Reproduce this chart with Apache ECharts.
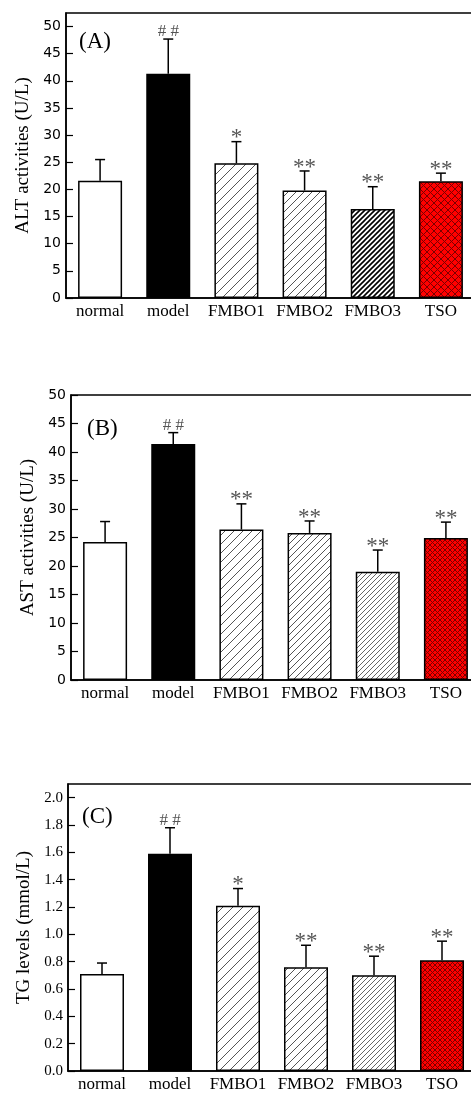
<!DOCTYPE html>
<html lang="en">
<head>
  <meta charset="UTF-8">
  <title>ALT / AST / TG</title>
  <script src="https://cdn.jsdelivr.net/npm/echarts@6/dist/echarts.min.js"></script>
  <style>
    html, body { margin: 0; padding: 0; background: #fff; }
    #app { width: 471px; height: 1095px; }
  </style>
</head>
<body>
  <div id="app"></div>
  <script>
    var groups = ['normal', 'model', 'FMBO1', 'FMBO2', 'FMBO3', 'TSO']

    // (A) ALT activities (U/L)
    var altMean = [21.6, 41.3, 24.8, 19.8, 16.4, 21.5]
    var altSd = [3.9, 6.4, 4.0, 3.6, 4.1, 1.5]
    var altMark = ['', '# #', '*', '**', '**', '**']

    // (B) AST activities (U/L)
    var astMean = [24.2, 41.4, 26.4, 25.8, 19.0, 24.9]
    var astSd = [3.6, 2.0, 4.5, 2.1, 3.8, 2.8]
    var astMark = ['', '# #', '**', '**', '**', '**']

    // (C) TG levels (mmol/L)
    var tgMean = [0.71, 1.59, 1.21, 0.76, 0.70, 0.81]
    var tgSd = [0.08, 0.19, 0.125, 0.16, 0.14, 0.14]
    var tgMark = ['', '# #', '*', '**', '**', '**']

    var serif = 'Liberation Serif'
    var sans = 'DejaVu Sans'

    // diagonal "/" hatch as a canvas pattern
    function hatch(step, color, lw) {
      var c = document.createElement('canvas')
      c.width = step
      c.height = step
      var ctx = c.getContext('2d')
      ctx.fillStyle = '#fff'
      ctx.fillRect(0, 0, step, step)
      ctx.strokeStyle = color
      ctx.lineWidth = lw
      ctx.beginPath()
      ctx.moveTo(-1, step + 1); ctx.lineTo(step + 1, -1)
      ctx.moveTo(-step / 2 - 1, step / 2 + 1); ctx.lineTo(step / 2 + 1, -step / 2 - 1)
      ctx.moveTo(step / 2 - 1, step * 1.5 + 1); ctx.lineTo(step * 1.5 + 1, step / 2 - 1)
      ctx.stroke()
      return { image: c, repeat: 'repeat' }
    }

    // red cross hatch
    function cross(step, color, lw) {
      var c = document.createElement('canvas')
      c.width = step
      c.height = step
      var ctx = c.getContext('2d')
      ctx.fillStyle = '#f00'
      ctx.fillRect(0, 0, step, step)
      ctx.strokeStyle = color
      ctx.lineWidth = lw
      ctx.beginPath()
      ctx.moveTo(0, step); ctx.lineTo(step, 0)
      ctx.moveTo(-step / 2, step / 2); ctx.lineTo(step / 2, -step / 2)
      ctx.moveTo(step / 2, step * 1.5); ctx.lineTo(step * 1.5, step / 2)
      ctx.moveTo(0, 0); ctx.lineTo(step, step)
      ctx.moveTo(-step / 2, step / 2); ctx.lineTo(step / 2, step * 1.5)
      ctx.moveTo(step / 2, -step / 2); ctx.lineTo(step * 1.5, step / 2)
      ctx.stroke()
      return { image: c, repeat: 'repeat' }
    }

    var fillA = ['#fff', '#000', hatch(10, '#555', 1), hatch(8, '#555', 1), hatch(5, '#000', 1.6), cross(7, '#7a0000', 1)]
    var fillB = ['#fff', '#000', hatch(9, '#555', 1), hatch(7, '#555', 1), hatch(5, '#666', 1), cross(5, '#7a0000', 1)]
    var fillC = ['#fff', '#000', hatch(10, '#555', 1), hatch(8, '#555', 1), hatch(5, '#666', 1), cross(5, '#7a0000', 1)]

    var grids = [
      { left: 66, top: 13, width: 409, height: 285 },
      { left: 71, top: 395, width: 409, height: 285 },
      { left: 68, top: 784, width: 408, height: 287 }
    ]
    grids.forEach(function (g) {
      g.show = true
      g.borderColor = '#000'
      g.borderWidth = 1.5
      g.backgroundColor = 'transparent'
      g.outerBoundsMode = 'none'
      g.containLabel = false
    })

    function xAxisFor(gi) {
      return {
        type: 'category',
        gridIndex: gi,
        data: groups,
        axisLine: { lineStyle: { color: '#000', width: 1.5 } },
        axisTick: { show: false },
        axisLabel: { interval: 0, margin: 5, color: '#000', fontFamily: serif, fontSize: 17 }
      }
    }

    function yMajor(gi, max, interval, name, font, fontSize, digits, showMax) {
      return {
        type: 'value',
        gridIndex: gi,
        min: 0,
        max: max,
        interval: interval,
        name: name,
        nameLocation: 'middle',
        nameGap: 30,
        nameTextStyle: { color: '#000', fontFamily: serif, fontSize: 19 },
        axisLine: { show: true, lineStyle: { color: '#000', width: 1.5 } },
        axisTick: { show: true, inside: true, length: 7, lineStyle: { color: '#000', width: 1.2 } },
        axisLabel: {
          margin: 5, color: '#000', fontFamily: font, fontSize: fontSize, showMaxLabel: showMax,
          formatter: function (v) { return v.toFixed(digits) }
        },
        splitLine: { show: false }
      }
    }

    function yMinor(gi, max, interval) {
      return {
        type: 'value',
        gridIndex: gi,
        min: 0,
        max: max,
        interval: interval,
        axisLine: { show: false },
        axisTick: { show: true, inside: true, length: 4, lineStyle: { color: '#000', width: 1.2 } },
        axisLabel: { show: false },
        splitLine: { show: false }
      }
    }

    function barSeries(gi, mean, fills) {
      return {
        type: 'bar',
        xAxisIndex: gi,
        yAxisIndex: gi * 2,
        barWidth: 44,
        data: mean.map(function (m, i) {
          return { value: m, itemStyle: { color: fills[i], borderColor: '#000', borderWidth: 1.5 } }
        })
      }
    }

    function errorSeries(gi, mean, sd, marks) {
      return {
        type: 'custom',
        xAxisIndex: gi,
        yAxisIndex: gi * 2,
        z: 3,
        data: mean.map(function (m, i) { return [i, m, m + sd[i]] }),
        renderItem: function (params, api) {
          var base = api.coord([api.value(0), api.value(1)])
          var top = api.coord([api.value(0), api.value(2)])
          var mark = marks[params.dataIndex]
          var isHash = mark.charAt(0) === '#'
          return {
            type: 'group',
            children: [
              { type: 'line', shape: { x1: base[0], y1: base[1], x2: top[0], y2: top[1] }, style: { stroke: '#000', lineWidth: 1.5 } },
              { type: 'line', shape: { x1: top[0] - 5, y1: top[1], x2: top[0] + 5, y2: top[1] }, style: { stroke: '#000', lineWidth: 1.5 } },
              {
                type: 'text', x: top[0], y: top[1] + (isHash ? 1 : 8),
                style: {
                  text: mark, fill: '#555', align: 'center', verticalAlign: 'bottom',
                  font: (isHash ? '17px ' : '23px ') + serif
                }
              }
            ]
          }
        }
      }
    }

    function panelLabel(text, left, top) {
      return {
        type: 'text', left: left, top: top,
        style: { text: text, fill: '#000', font: '23px ' + serif }
      }
    }

    var app = document.querySelector('#app')
    var mCharts = echarts.init(app)
    var option = {
      animation: false,
      grid: grids,
      xAxis: [xAxisFor(0), xAxisFor(1), xAxisFor(2)],
      yAxis: [
        yMajor(0, 52.5, 5, 'ALT activities (U/L)', sans, 14, 0, false), yMinor(0, 52.5, 2.5),
        yMajor(1, 50, 5, 'AST activities (U/L)', sans, 14, 0, true), yMinor(1, 50, 2.5),
        yMajor(2, 2.1, 0.2, 'TG levels (mmol/L)', serif, 15, 1, false), yMinor(2, 2.1, 0.1)
      ],
      series: [
        barSeries(0, altMean, fillA), errorSeries(0, altMean, altSd, altMark),
        barSeries(1, astMean, fillB), errorSeries(1, astMean, astSd, astMark),
        barSeries(2, tgMean, fillC), errorSeries(2, tgMean, tgSd, tgMark)
      ],
      graphic: [
        panelLabel('(A)', 79, 30),
        panelLabel('(B)', 87, 417),
        panelLabel('(C)', 82, 805)
      ]
    }
    mCharts.setOption(option)
  </script>
</body>
</html>
